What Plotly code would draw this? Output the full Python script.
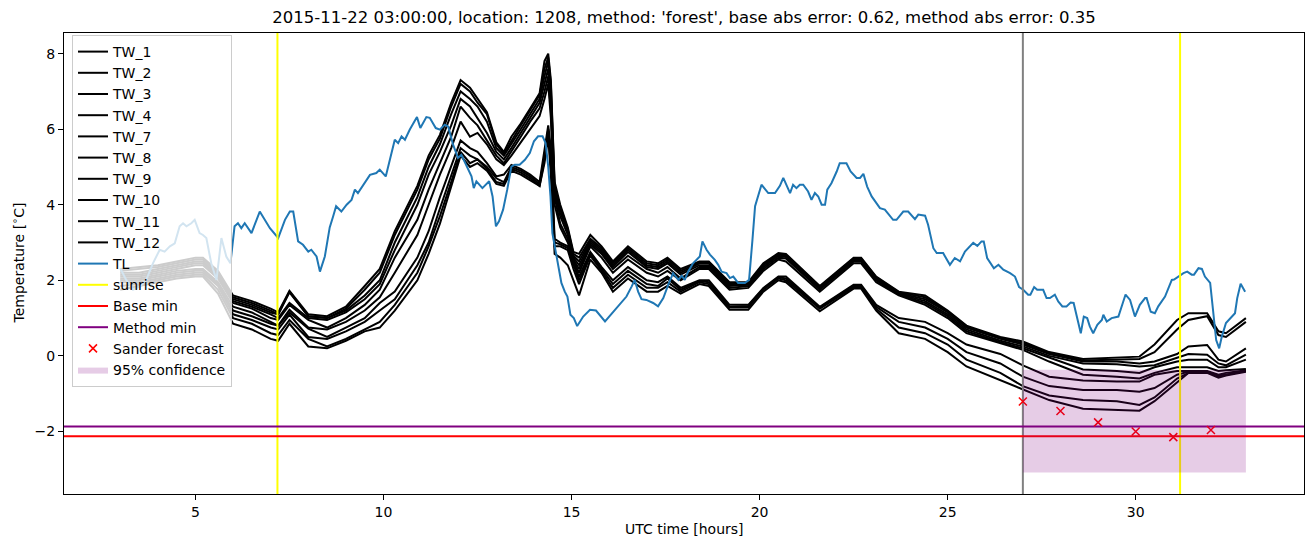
import plotly.graph_objects as go

# ---------------- data ----------------
TIME_TL = [3.0, 3.16, 3.34, 3.52, 3.69, 3.87, 4.05, 4.18, 4.32, 4.45, 4.58, 4.67, 4.76, 4.89, 4.98,
           5.11, 5.2, 5.29, 5.42, 5.56, 5.69, 5.82, 5.93, 6.04, 6.13, 6.22, 6.31, 6.49, 6.71, 6.98,
           7.2, 7.38, 7.51, 7.6, 7.73, 7.86, 8.0, 8.08, 8.22, 8.31, 8.44, 8.57, 8.66, 8.74, 8.88,
           9.02, 9.15, 9.24, 9.32, 9.46, 9.64, 9.81, 9.9, 10.06, 10.17, 10.3, 10.39, 10.48, 10.57, 10.7,
           10.89, 10.98, 11.14, 11.23, 11.39, 11.5, 11.63, 11.72, 11.85, 11.98, 12.07, 12.21, 12.34, 12.4, 12.47,
           12.63, 12.81, 12.9, 12.99, 13.07, 13.18, 13.29, 13.4, 13.49, 13.62, 13.76, 13.89, 14.0, 14.11, 14.23,
           14.31, 14.38, 14.44, 14.49, 14.58, 14.67, 14.73, 14.82, 14.89, 14.97, 15.06, 15.15, 15.31, 15.49, 15.65,
           15.89, 16.2, 16.46, 16.6, 16.68, 16.77, 16.86, 16.99, 17.17, 17.3, 17.44, 17.57, 17.7, 17.84, 17.93,
           18.01, 18.1, 18.23, 18.32, 18.41, 18.48, 18.59, 18.68, 18.81, 18.9, 18.99, 19.12, 19.21, 19.3, 19.43,
           19.61, 19.72, 19.81, 19.88, 20.05, 20.23, 20.41, 20.54, 20.63, 20.81, 20.89, 20.98, 21.07, 21.16, 21.29,
           21.38, 21.47, 21.56, 21.65, 21.74, 21.8, 21.91, 22.05, 22.13, 22.31, 22.42, 22.58, 22.67, 22.76, 22.86,
           22.98, 23.2, 23.33, 23.55, 23.64, 23.82, 23.95, 24.13, 24.22, 24.4, 24.48, 24.62, 24.71, 24.88, 25.06,
           25.19, 25.33, 25.46, 25.68, 25.79, 25.9, 25.96, 26.05, 26.14, 26.23, 26.35, 26.48, 26.66, 26.79, 26.9,
           27.01, 27.14, 27.2, 27.3, 27.38, 27.54, 27.63, 27.72, 27.85, 27.94, 28.05, 28.16, 28.27, 28.35, 28.44,
           28.54, 28.62, 28.71, 28.78, 28.87, 28.98, 29.1, 29.14, 29.23, 29.36, 29.54, 29.67, 29.73, 29.85, 29.98,
           30.11, 30.25, 30.29, 30.4, 30.51, 30.6, 30.78, 30.96, 31.02, 31.13, 31.27, 31.37, 31.49, 31.55, 31.67,
           31.76, 31.84, 31.98, 32.06, 32.14, 32.22, 32.29, 32.4, 32.51, 32.64, 32.7, 32.79, 32.91]
TL = [2.32, 2.01, 1.75, 1.84, 2.01, 2.45, 2.81, 2.76, 2.9, 2.98, 3.43, 3.51, 3.43, 3.51, 3.6,
      3.25, 3.2, 3.12, 2.45, 2.01, 3.12, 2.63, 2.45, 3.43, 3.51, 3.38, 3.51, 3.25, 3.82, 3.38,
      3.12, 3.6, 3.82, 3.82, 3.03, 2.94, 2.76, 2.81, 2.63, 2.23, 2.63, 3.4, 3.69, 3.96, 3.82,
      4.0, 4.13, 4.4, 4.31, 4.53, 4.79, 4.84, 4.93, 4.75, 5.19, 5.72, 5.63, 5.81, 5.72, 5.99,
      6.32, 6.03, 6.32, 6.3, 6.03, 5.99, 6.12, 6.07, 5.59, 5.24, 5.32, 5.01, 4.75, 4.44, 4.62,
      4.44, 4.62, 4.22, 3.43, 3.56, 3.87, 4.4, 5.01, 5.06, 5.06, 5.19, 5.37, 5.68, 5.81, 5.81,
      5.63, 5.01, 4.22, 3.25, 2.72, 2.28, 1.93, 1.7, 1.57, 1.09, 1.0, 0.79, 1.04, 1.22, 1.2,
      0.91, 1.28, 1.57, 1.84, 2.01, 1.7, 1.5, 1.48, 1.4, 1.31, 1.53, 1.88, 2.19, 2.01, 2.12,
      2.01, 2.23, 2.45, 2.54, 2.63, 3.03, 2.81, 2.68, 2.54, 2.41, 2.23, 2.19, 2.06, 2.1, 1.93,
      1.93, 2.01, 3.07, 3.96, 4.53, 4.31, 4.31, 4.5, 4.71, 4.31, 4.53, 4.44, 4.53, 4.53, 4.35,
      4.13, 4.31, 4.22, 4.0, 4.0, 4.4, 4.57, 4.88, 5.1, 5.1, 4.88, 4.71, 4.71, 4.82, 4.48,
      4.22, 3.91, 3.87, 3.6, 3.6, 3.82, 3.82, 3.62, 3.74, 3.71, 3.47, 2.85, 2.72, 2.72, 2.41,
      2.59, 2.5, 2.76, 2.99, 2.91, 3.03, 3.03, 2.59, 2.45, 2.32, 2.41, 2.28, 2.19, 2.1, 1.82,
      1.75, 1.62, 1.62, 1.82, 1.75, 1.75, 1.53, 1.53, 1.62, 1.44, 1.31, 1.31, 1.41, 1.4, 1.04,
      0.6, 1.04, 1.0, 0.78, 0.6, 0.82, 0.95, 1.09, 0.91, 1.0, 1.04, 1.44, 1.62, 1.48, 1.04,
      1.35, 1.53, 1.53, 1.17, 1.13, 1.31, 1.57, 2.01, 2.02, 2.1, 2.19, 2.23, 2.15, 2.15, 2.32,
      2.3, 2.1, 1.93, 1.13, 0.42, 0.2, 0.51, 0.87, 1.0, 1.13, 1.53, 1.91, 1.7]

TIME_TW = [3.0, 3.5, 4.0, 4.5, 5.0, 5.2, 5.6, 6.0, 6.5, 7.0,
           7.2, 7.5, 8.0, 8.5, 9.0, 9.5, 9.9, 10.3, 10.9, 11.2,
           11.5, 11.8, 12.05, 12.3, 12.5, 12.75, 13.0, 13.2, 13.4, 13.65,
           13.9, 14.15, 14.28, 14.38, 14.45, 14.55, 14.7, 14.9, 15.05, 15.2,
           15.5, 15.8, 16.1, 16.5, 17.0, 17.3, 17.55, 17.9, 18.4, 18.65,
           19.2, 19.7, 20.1, 20.5, 20.7, 21.6, 22.5, 22.7, 23.1, 23.7,
           24.4, 25.0, 25.5, 26.4, 27.0, 27.7, 28.6, 29.5, 30.1, 30.5,
           31.1, 31.4, 31.9, 32.2, 32.4, 32.93]
TW_1 = [2.3, 2.35, 2.4, 2.5, 2.6, 2.6, 2.25, 1.6, 1.45, 1.25,
        1.15, 1.72, 1.1, 1.05, 1.3, 1.85, 2.3, 3.3, 4.5, 5.3,
        5.85, 6.7, 7.3, 7.1, 6.8, 6.45, 5.65, 5.4, 5.8, 6.15,
        6.55, 6.95, 7.8, 8.0, 7.3, 4.6, 4.0, 3.4, 2.75, 2.7,
        3.2, 2.9, 2.5, 2.9, 2.5, 2.45, 2.6, 2.3, 2.5, 2.5,
        1.95, 1.95, 2.45, 2.72, 2.7, 1.85, 2.6, 2.6, 2.1, 1.7,
        1.6, 1.2, 0.8, 0.5, 0.38, 0.1, -0.08, -0.05, -0.02, 0.3,
        0.95, 1.13, 1.13, 0.65, 0.6, 1.0]
TW_2 = [2.25, 2.3, 2.35, 2.45, 2.55, 2.55, 2.2, 1.55, 1.4, 1.2,
        1.1, 1.7, 1.05, 1.0, 1.25, 1.75, 2.2, 3.2, 4.4, 5.2,
        5.75, 6.6, 7.2, 7.0, 6.7, 6.4, 5.6, 5.35, 5.7, 6.1,
        6.5, 6.9, 7.6, 7.9, 7.2, 4.5, 3.9, 3.35, 2.7, 2.6,
        3.1, 2.85, 2.45, 2.85, 2.45, 2.4, 2.55, 2.25, 2.48, 2.48,
        1.9, 1.92, 2.42, 2.7, 2.68, 1.82, 2.58, 2.58, 2.08, 1.68,
        1.55, 1.18, 0.78, 0.48, 0.34, 0.08, -0.12, -0.1, -0.08, 0.1,
        0.7, 0.95, 1.05, 0.55, 0.5, 0.9]
TW_3 = [2.2, 2.2, 2.3, 2.4, 2.5, 2.5, 2.15, 1.5, 1.35, 1.15,
        1.1, 1.68, 1.05, 1.0, 1.2, 1.6, 2.0, 3.0, 4.2, 5.0,
        5.6, 6.4, 7.0, 6.8, 6.6, 6.2, 5.5, 5.3, 5.6, 6.0,
        6.4, 6.8, 7.4, 7.8, 7.0, 4.4, 3.8, 3.3, 2.65, 2.5,
        3.05, 2.8, 2.4, 2.8, 2.4, 2.35, 2.5, 2.2, 2.45, 2.45,
        1.88, 1.9, 2.4, 2.68, 2.65, 1.8, 2.55, 2.55, 2.05, 1.66,
        1.5, 1.15, 0.75, 0.45, 0.3, 0.05, -0.15, -0.15, -0.2, -0.15,
        0.05, 0.25, 0.29, -0.1, -0.15, 0.2]
TW_4 = [2.15, 2.15, 2.25, 2.35, 2.45, 2.45, 2.1, 1.45, 1.3, 1.1,
        1.0, 1.4, 1.0, 0.95, 1.15, 1.5, 1.9, 2.8, 4.0, 4.8,
        5.4, 6.1, 6.8, 6.6, 6.3, 5.9, 5.4, 5.2, 5.5, 5.9,
        6.3, 6.7, 7.2, 7.6, 6.8, 4.3, 3.7, 3.2, 2.6, 2.4,
        3.0, 2.75, 2.35, 2.75, 2.35, 2.3, 2.45, 2.15, 2.4, 2.4,
        1.85, 1.88, 2.35, 2.65, 2.62, 1.78, 2.52, 2.52, 2.02, 1.64,
        1.45, 1.1, 0.7, 0.4, 0.25, 0.0, -0.2, -0.22, -0.28, -0.25,
        -0.05, 0.05, 0.03, -0.2, -0.25, 0.03]
TW_7 = [2.1, 2.1, 2.2, 2.3, 2.4, 2.4, 2.05, 1.4, 1.25, 1.0,
        0.95, 1.35, 0.95, 0.75, 1.0, 1.35, 1.75, 2.6, 3.6, 4.4,
        5.1, 5.8, 6.6, 6.3, 6.1, 5.7, 5.3, 5.1, 5.4, 5.8,
        6.2, 6.55, 7.0, 7.4, 6.5, 4.2, 3.5, 3.1, 2.55, 2.3,
        2.95, 2.7, 2.3, 2.65, 2.3, 2.2, 2.35, 2.05, 2.35, 2.35,
        1.8, 1.85, 2.3, 2.6, 2.58, 1.75, 2.5, 2.5, 2.0, 1.62,
        1.4, 1.05, 0.65, 0.36, 0.2, -0.05, -0.36, -0.4, -0.45, -0.3,
        -0.15, -0.1, -0.1, -0.3, -0.3, -0.1]
TW_8 = [2.05, 2.05, 2.15, 2.25, 2.3, 2.3, 1.95, 1.3, 1.15, 0.9,
        0.8, 1.22, 0.75, 0.7, 0.9, 1.2, 1.55, 2.2, 3.2, 4.0,
        4.8, 5.5, 6.2, 5.8, 5.9, 5.6, 5.2, 5.05, 5.3, 5.65,
        6.0, 6.35, 6.8, 7.2, 6.3, 4.0, 3.4, 3.0, 2.5, 2.2,
        2.9, 2.6, 2.2, 2.55, 2.2, 2.1, 2.25, 2.0, 2.3, 2.3,
        1.75, 1.8, 2.25, 2.55, 2.5, 1.7, 2.45, 2.45, 1.95, 1.6,
        1.35, 1.0, 0.6, 0.34, 0.16, -0.15, -0.5, -0.55, -0.6, -0.45,
        -0.3, -0.3, -0.3, -0.4, -0.38, -0.35]
TW_9 = [2.0, 2.0, 2.1, 2.2, 2.25, 2.25, 1.9, 1.2, 1.05, 0.85,
        0.8, 1.15, 0.72, 0.5, 0.75, 1.0, 1.4, 1.7, 2.6, 3.3,
        4.2, 5.0, 5.7, 5.5, 5.4, 5.1, 4.75, 4.8, 5.05, 4.95,
        4.8, 4.6, 5.4, 6.1, 5.5, 3.1, 3.0, 2.9, 2.45, 2.1,
        2.75, 2.35, 2.0, 2.35, 2.0, 1.95, 2.1, 1.8, 2.0, 2.0,
        1.35, 1.35, 1.8, 2.1, 2.1, 1.3, 1.88, 1.88, 1.35, 1.0,
        0.9, 0.6, 0.3, 0.05, -0.25, -0.55, -0.65, -0.68, -0.68, -0.5,
        -0.4, -0.4, -0.4, -0.5, -0.45, -0.38]
TW_10 = [1.95, 1.95, 2.05, 2.15, 2.2, 2.2, 1.85, 1.1, 0.95, 0.75,
         0.7, 1.09, 0.5, 0.45, 0.65, 0.9, 1.2, 1.5, 2.4, 3.0,
         3.9, 4.8, 5.5, 5.3, 5.2, 5.0, 4.7, 4.6, 5.0, 4.9,
         4.75, 4.55, 5.3, 6.0, 5.2, 3.0, 2.95, 2.85, 2.4, 2.0,
         2.7, 2.3, 1.9, 2.25, 1.9, 1.85, 2.05, 1.75, 1.98, 1.95,
         1.3, 1.32, 1.78, 2.08, 2.05, 1.28, 1.85, 1.85, 1.3, 0.9,
         0.75, 0.45, 0.1, -0.2, -0.55, -0.8, -0.9, -0.9, -0.95, -0.85,
         -0.5, -0.42, -0.42, -0.52, -0.5, -0.4]
TW_11 = [1.85, 1.9, 2.0, 2.1, 2.15, 2.15, 1.75, 1.0, 0.85, 0.6,
         0.55, 0.95, 0.45, 0.25, 0.45, 0.7, 0.9, 1.35, 2.2, 2.9,
         3.7, 4.6, 5.4, 5.1, 5.2, 4.95, 4.6, 4.55, 4.95, 4.85,
         4.7, 4.5, 5.2, 5.9, 5.0, 2.9, 2.9, 2.8, 2.3, 1.9,
         2.65, 2.25, 1.8, 2.15, 1.8, 1.8, 1.95, 1.7, 1.95, 1.9,
         1.28, 1.28, 1.75, 2.05, 2.0, 1.25, 1.82, 1.82, 1.25, 0.75,
         0.6, 0.3, -0.1, -0.45, -0.8, -1.05, -1.17, -1.2, -1.3, -1.1,
         -0.6, -0.45, -0.42, -0.55, -0.5, -0.4]
TW_12 = [1.75, 1.85, 1.95, 2.05, 2.1, 2.1, 1.65, 0.85, 0.7, 0.45,
         0.4, 0.85, 0.25, 0.2, 0.4, 0.65, 0.75, 1.2, 2.0, 2.7,
         3.5, 4.5, 5.3, 5.0, 5.1, 4.9, 4.55, 4.5, 4.9, 4.8,
         4.65, 4.5, 5.1, 5.8, 4.8, 2.7, 2.6, 2.4, 2.0, 1.6,
         2.55, 2.2, 1.7, 2.05, 1.7, 1.7, 1.85, 1.65, 1.9, 1.85,
         1.22, 1.22, 1.7, 2.0, 1.95, 1.18, 1.78, 1.78, 1.2, 0.6,
         0.45, 0.1, -0.28, -0.64, -0.9, -1.17, -1.4, -1.42, -1.45, -1.2,
         -0.7, -0.45, -0.45, -0.58, -0.52, -0.42]

TW_NAMES = ["TW_1", "TW_2", "TW_3", "TW_4", "TW_7", "TW_8", "TW_9", "TW_10", "TW_11", "TW_12"]
TW_SERIES = [TW_1, TW_2, TW_3, TW_4, TW_7, TW_8, TW_9, TW_10, TW_11, TW_12]

SUNRISE = [7.18, 31.18]
FORECAST_TIME = 27.0
BASE_MIN = -2.13
METHOD_MIN = -1.87
SANDER_TIME = [27, 28, 29, 30, 31, 32]
SANDER = [-1.21, -1.46, -1.76, -2.0, -2.15, -1.96]
CONF_TIME = [27.0, 32.93]
CONF_LOW = -3.09
CONF_HIGH = -0.37

X_RANGE = [1.505, 34.475]
Y_RANGE = [-3.656, 8.546]

TITLE = ("2015-11-22 03:00:00, location: 1208, method: 'forest', "
         "base abs error: 0.62, method abs error: 0.35")

# ---------------- figure ----------------
FONT = "DejaVu Sans"
fig = go.Figure()

for name, vals in zip(TW_NAMES, TW_SERIES):
    fig.add_trace(go.Scatter(x=TIME_TW, y=vals, mode="lines", name=name, legendgroup=name,
                             line=dict(color="black", width=2)))

fig.add_trace(go.Scatter(x=TIME_TL, y=TL, mode="lines", name="TL", legendgroup="TL",
                         line=dict(color="#1f77b4", width=2)))

sx, sy = [], []
for s in SUNRISE:
    sx += [s, s, None]
    sy += [Y_RANGE[0], Y_RANGE[1], None]
fig.add_trace(go.Scatter(x=sx, y=sy, mode="lines", name="sunrise", legendgroup="sunrise",
                         line=dict(color="yellow", width=2)))

fig.add_trace(go.Scatter(x=[FORECAST_TIME, FORECAST_TIME], y=Y_RANGE, mode="lines",
                         showlegend=False, line=dict(color="gray", width=2), hoverinfo="skip"))

fig.add_trace(go.Scatter(x=X_RANGE, y=[BASE_MIN, BASE_MIN], mode="lines", name="Base min",
                         legendgroup="base", line=dict(color="red", width=2)))
fig.add_trace(go.Scatter(x=X_RANGE, y=[METHOD_MIN, METHOD_MIN], mode="lines", name="Method min",
                         legendgroup="method", line=dict(color="purple", width=2)))

fig.add_trace(go.Scatter(x=SANDER_TIME, y=SANDER, mode="markers", name="Sander forecast",
                         legendgroup="sander",
                         marker=dict(symbol="x-thin", size=8, color="red",
                                     line=dict(color="red", width=1.5))))

fig.add_trace(go.Scatter(x=[CONF_TIME[0], CONF_TIME[1], CONF_TIME[1], CONF_TIME[0], CONF_TIME[0]],
                         y=[CONF_LOW, CONF_LOW, CONF_HIGH, CONF_HIGH, CONF_LOW],
                         mode="lines", fill="toself", fillcolor="rgba(128,0,128,0.2)",
                         line=dict(width=0, color="rgba(128,0,128,0.2)"),
                         name="95% confidence", legendgroup="conf"))

W, H = 1313, 547
L, R, T, B = 64, 9, 33, 53
plot_h = H - T - B
plot_w = W - L - R

fig.update_layout(
    width=W, height=H,
    margin=dict(l=L, r=R, t=T, b=B),
    paper_bgcolor="white", plot_bgcolor="white",
    font=dict(family=FONT, size=14, color="black"),
    title=dict(text=TITLE, x=0.5, xref="paper", xanchor="center",
               y=1 - 17 / H, yref="container", yanchor="middle",
               font=dict(family=FONT, size=16.5, color="black")),
    showlegend=True,
    legend=dict(x=8 / plot_w, y=1 - 2 / plot_h, xanchor="left", yanchor="top",
                bgcolor="rgba(255,255,255,0.8)", bordercolor="#cccccc", borderwidth=1,
                font=dict(family=FONT, size=14, color="black"),
                itemwidth=30, tracegroupgap=2.6, traceorder="normal"),
    xaxis=dict(range=X_RANGE, tickvals=[5, 10, 15, 20, 25, 30], showgrid=False, zeroline=False,
               showline=True, mirror=True, linecolor="black", linewidth=1,
               ticks="outside", ticklen=5, tickwidth=1, tickcolor="black",
               tickfont=dict(family=FONT, size=14, color="black")),
    yaxis=dict(range=Y_RANGE, tickvals=[-2, 0, 2, 4, 6, 8], showgrid=False, zeroline=False,
               showline=True, mirror=True, linecolor="black", linewidth=1,
               ticks="outside", ticklen=5, tickwidth=1, tickcolor="black",
               tickfont=dict(family=FONT, size=14, color="black")),
    annotations=[
        dict(text="UTC time [hours]", xref="paper", yref="paper", x=0.5, y=-(529 - (H - B)) / plot_h,
             xanchor="center", yanchor="middle", showarrow=False,
             font=dict(family=FONT, size=14, color="black")),
        dict(text="Temperature [<sup>∘</sup>C]", xref="paper", yref="paper", x=(18 - L) / plot_w, y=0.5,
             xanchor="center", yanchor="middle", textangle=-90, showarrow=False,
             font=dict(family=FONT, size=14, color="black")),
    ],
)

fig.write_html("out.html")
